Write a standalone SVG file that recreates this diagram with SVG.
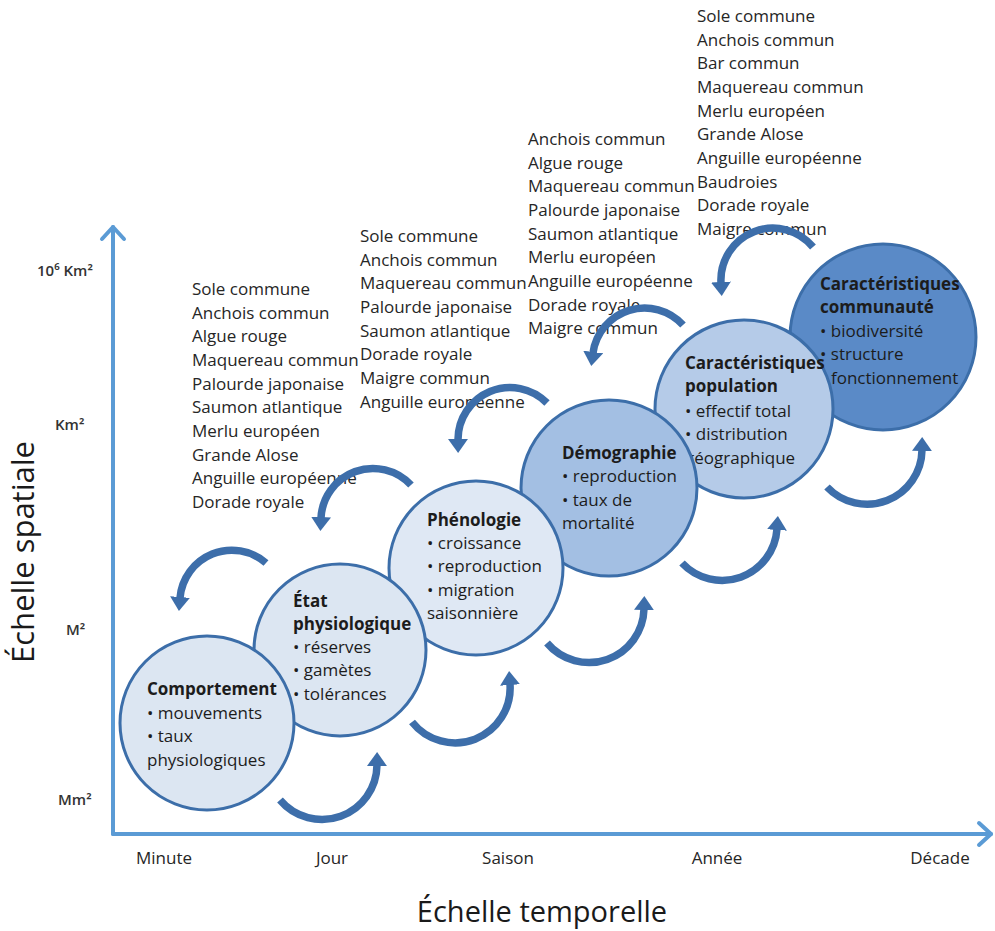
<svg xmlns="http://www.w3.org/2000/svg" width="995" height="931" viewBox="0 0 995 931">
<style>
text{font-family:"Open Sans","Liberation Sans",sans-serif;}
.sp{font-size:17px;fill:#262626;}
.nt{font-size:17px;fill:#1c1c1c;}
.b{font-weight:bold;}
.tick{font-size:15px;fill:#333;font-weight:600;}
.xl{font-size:17px;fill:#262626;}
.title{font-size:29px;fill:#1a1a1a;}
.ax{stroke:#5b9bd5;stroke-width:4;fill:none;stroke-linecap:round;stroke-linejoin:round;}
.arr{stroke:#3d6eaa;stroke-width:7.5;fill:none;marker-end:url(#ah);}
.c{stroke:#3c6ea9;stroke-width:3;}
</style>
<defs>
<marker id="ah" markerUnits="userSpaceOnUse" markerWidth="14" markerHeight="20" viewBox="0 0 14 20" refX="1" refY="10" orient="auto"><path d="M0,0 L14,10 L0,20 z" fill="#3d6eaa"/></marker>
</defs>
<rect width="995" height="931" fill="#ffffff"/>
<g id="axes">
<line class="ax" x1="113" y1="834" x2="113" y2="227"/>
<polyline class="ax" points="102,239 113,227 124,239"/>
<line class="ax" x1="113" y1="834" x2="991" y2="834"/>
<polyline class="ax" points="979,823 991,834 979,845"/>
<text class="tick" x="37" y="276">10⁶ Km²</text>
<text class="tick" x="55" y="430">Km²</text>
<text class="tick" x="66" y="635">M²</text>
<text class="tick" x="58" y="805">Mm²</text>
<text class="xl" x="164" y="864" text-anchor="middle">Minute</text>
<text class="xl" x="332" y="864" text-anchor="middle">Jour</text>
<text class="xl" x="508" y="864" text-anchor="middle">Saison</text>
<text class="xl" x="717" y="864" text-anchor="middle">Année</text>
<text class="xl" x="940" y="864" text-anchor="middle">Décade</text>
<text class="title" x="542" y="922" text-anchor="middle">Échelle temporelle</text>
<text class="title" style="font-size:31px" transform="translate(34,552) rotate(-90)" text-anchor="middle">Échelle spatiale</text>
</g>
<g id="list-jour" class="sp">
<text x="192" y="295">Sole commune</text>
<text x="192" y="318.7">Anchois commun</text>
<text x="192" y="342.3">Algue rouge</text>
<text x="192" y="366">Maquereau commun</text>
<text x="192" y="389.7">Palourde japonaise</text>
<text x="192" y="413.3">Saumon atlantique</text>
<text x="192" y="437">Merlu européen</text>
<text x="192" y="460.7">Grande Alose</text>
<text x="192" y="484.3">Anguille européenne</text>
<text x="192" y="508">Dorade royale</text>
</g>
<g id="list-saison-1" class="sp">
<text x="360" y="242">Sole commune</text>
<text x="360" y="265.7">Anchois commun</text>
<text x="360" y="289.3">Maquereau commun</text>
<text x="360" y="313">Palourde japonaise</text>
<text x="360" y="336.7">Saumon atlantique</text>
<text x="360" y="360.3">Dorade royale</text>
<text x="360" y="384">Maigre commun</text>
<text x="360" y="407.7">Anguille européenne</text>
</g>
<g id="list-saison-2" class="sp">
<text x="528" y="145">Anchois commun</text>
<text x="528" y="168.7">Algue rouge</text>
<text x="528" y="192.3">Maquereau commun</text>
<text x="528" y="216">Palourde japonaise</text>
<text x="528" y="239.7">Saumon atlantique</text>
<text x="528" y="263.3">Merlu européen</text>
<text x="528" y="287">Anguille européenne</text>
<text x="528" y="310.7">Dorade royale</text>
<text x="528" y="334.3">Maigre commun</text>
</g>
<g id="list-annee" class="sp">
<text x="697" y="22">Sole commune</text>
<text x="697" y="45.7">Anchois commun</text>
<text x="697" y="69.3">Bar commun</text>
<text x="697" y="93">Maquereau commun</text>
<text x="697" y="116.7">Merlu européen</text>
<text x="697" y="140.3">Grande Alose</text>
<text x="697" y="164">Anguille européenne</text>
<text x="697" y="187.7">Baudroies</text>
<text x="697" y="211.3">Dorade royale</text>
<text x="697" y="235">Maigre commun</text>
</g>
<g id="connectors">
<path class="arr" d="M 266 563 A 52 52 0 0 0 180 598"/>
<path class="arr" d="M 411 485 A 52 52 0 0 0 321 518"/>
<path class="arr" d="M 547 403 A 52 52 0 0 0 458 440"/>
<path class="arr" d="M 683 325 A 52 52 0 0 0 593 353"/>
<path class="arr" d="M 813 247 A 52 52 0 0 0 721 283"/>
<path class="arr" d="M 280 800 A 55 55 0 0 0 377 765"/>
<path class="arr" d="M 412 722 A 55 55 0 0 0 510 684"/>
<path class="arr" d="M 547 643 A 55 55 0 0 0 644 609"/>
<path class="arr" d="M 682 563 A 55 55 0 0 0 777 529"/>
<path class="arr" d="M 827 487 A 55 55 0 0 0 922 450"/>
</g>
<g id="n-communaute">
<circle class="c" cx="883" cy="337" r="93" fill="#5a8ac7"/>
<text class="nt b" x="820" y="290">Caractéristiques</text>
<text class="nt b" x="820" y="313">communauté</text>
<text class="nt" x="820" y="337">• biodiversité</text>
<text class="nt" x="820" y="360">• structure</text>
<text class="nt" x="831" y="384">fonctionnement</text>
</g>
<g id="n-population">
<circle class="c" cx="744" cy="409" r="89" fill="#b5cbe8"/>
<text class="nt b" x="685" y="369">Caractéristiques</text>
<text class="nt b" x="685" y="392">population</text>
<text class="nt" x="685" y="417">• effectif total</text>
<text class="nt" x="685" y="440">• distribution</text>
<text class="nt" x="685" y="464">géographique</text>
</g>
<g id="n-demographie">
<circle class="c" cx="609" cy="488" r="88" fill="#a3bfe3"/>
<text class="nt b" x="562" y="459">Démographie</text>
<text class="nt" x="562" y="482">• reproduction</text>
<text class="nt" x="562" y="506">• taux de</text>
<text class="nt" x="562" y="529">mortalité</text>
</g>
<g id="n-phenologie">
<circle class="c" cx="476" cy="568" r="87" fill="#dfe8f4"/>
<text class="nt b" x="427" y="526">Phénologie</text>
<text class="nt" x="427" y="549">• croissance</text>
<text class="nt" x="427" y="572">• reproduction</text>
<text class="nt" x="427" y="596">• migration</text>
<text class="nt" x="427" y="619">saisonnière</text>
</g>
<g id="n-etat">
<circle class="c" cx="340" cy="650" r="86" fill="#dce6f2"/>
<text class="nt b" x="293" y="607">État</text>
<text class="nt b" x="293" y="630">physiologique</text>
<text class="nt" x="293" y="653">• réserves</text>
<text class="nt" x="293" y="676">• gamètes</text>
<text class="nt" x="293" y="700">• tolérances</text>
</g>
<g id="n-comportement">
<circle class="c" cx="207" cy="723" r="87" fill="#dce6f2"/>
<text class="nt b" x="147" y="695">Comportement</text>
<text class="nt" x="147" y="719">• mouvements</text>
<text class="nt" x="147" y="742">• taux</text>
<text class="nt" x="147" y="766">physiologiques</text>
</g>
</svg>
